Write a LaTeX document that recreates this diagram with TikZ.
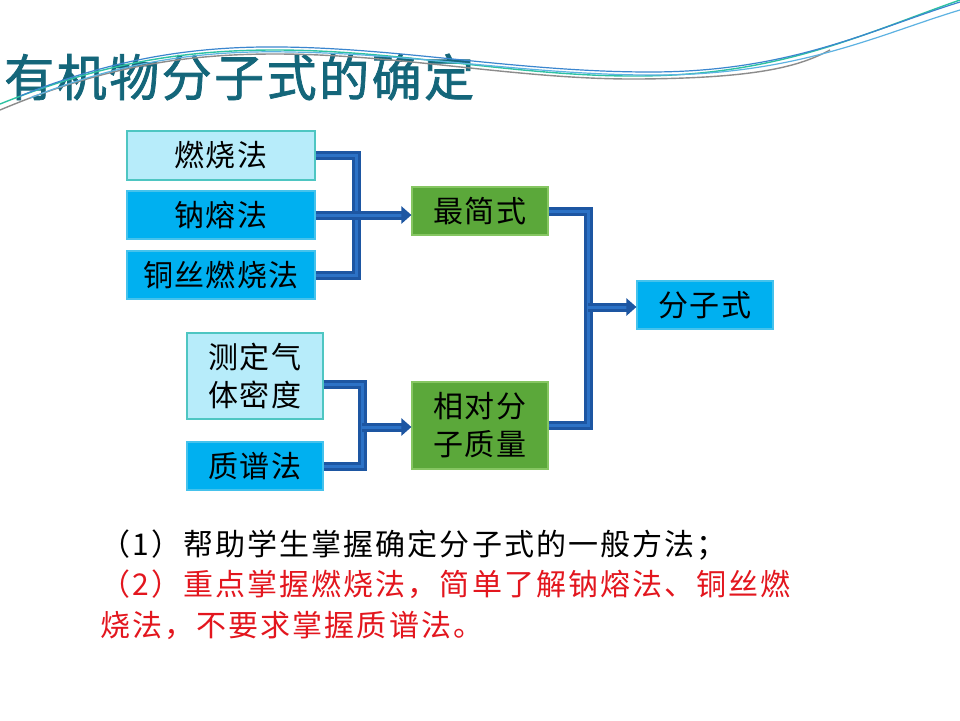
\documentclass[tikz,border=0pt]{standalone}
\usepackage{fontspec}
\setmainfont{Noto Sans CJK SC}[LetterSpace=4]
\newfontfamily\headfont{Noto Sans CJK SC}[FakeBold=1.5,LetterSpace=5]
\newfontfamily\notefont{Noto Sans CJK SC}[LetterSpace=7]
\usetikzlibrary{arrows.meta,positioning}
\definecolor{paleblue} {HTML}{B7ECFA}
\definecolor{paleedge} {HTML}{4EC6C2}
\definecolor{skyfill}  {HTML}{00B0F0}
\definecolor{skyedge}  {HTML}{45C2EC}
\definecolor{leaf}     {HTML}{5BA83A}
\definecolor{leafedge} {HTML}{86C662}
\definecolor{linkdark} {HTML}{1D56A2}
\definecolor{linklight}{HTML}{2C72C6}
\definecolor{headteal} {HTML}{14667A}
\definecolor{notered}  {HTML}{E3161E}
\definecolor{swgray}   {HTML}{8C8C8C}
\definecolor{swteal}   {HTML}{2EC2A2}
\definecolor{swblue}   {HTML}{3B86CF}
\definecolor{swsky}    {HTML}{5DB2E2}

\begin{document}
\begin{tikzpicture}[x=1pt,y=-1pt,
    box/.style={draw,line width=1.2pt,minimum width=136pt,minimum height=48pt,
                inner sep=2pt,align=center,font=\fontsize{30}{38}\selectfont},
    palebox/.style={box,fill=paleblue,draw=paleedge},
    skybox/.style={box,fill=skyfill,draw=skyedge},
    leafbox/.style={box,fill=leaf,draw=leafedge},
    link/.style={draw=linkdark,line width=3pt,double=linklight,double distance=3pt},
    linkarrow/.style={link,-{Triangle[length=10pt,width=17pt]}},
    note/.style={anchor=west,inner sep=0pt,font=\notefont\fontsize{30}{36}\selectfont}]
  \useasboundingbox[fill=white] (0,0) rectangle (960,720);

  % title
  \node[anchor=west,inner sep=0pt,text=headteal,font=\headfont\fontsize{50}{56}\selectfont]
    (title) at (4,77) {有机物分子式的确定};

  % swoosh
  \draw[swgray,line width=1.4pt] (0,110) .. controls (100,68) and (180,54) .. (275,54)
    .. controls (400,54) and (520,80) .. (640,79) .. controls (760,78) and (800,66) .. (830,50);
  \draw[swteal,line width=1.4pt] (0,104) .. controls (100,64) and (180,50) .. (275,50)
    .. controls (400,50) and (520,77) .. (640,76) .. controls (780,75) and (860,35) .. (960,0);
  \draw[swblue,line width=1.2pt] (20,96) .. controls (110,60) and (190,46) .. (280,47)
    .. controls (400,48) and (520,72) .. (650,72) .. controls (790,72) and (870,30) .. (960,2);
  \draw[swsky,line width=1.2pt] (30,98) .. controls (120,62) and (200,50) .. (290,52)
    .. controls (420,54) and (540,76) .. (660,75) .. controls (800,74) and (880,34) .. (960,10);

  % boxes
  \node[palebox,minimum width=188pt,minimum height=49pt] (burn) at (221,155.5) {燃烧法};
  \node[skybox,minimum width=188pt] (sodium) at (221,215) {钠熔法};
  \node[skybox,minimum width=188pt] (copper) at (221,275) {铜丝燃烧法};
  \node[leafbox] (simplest) at (480,211) {最简式};
  \node[skybox] (formula) at (705,305) {分子式};
  \node[palebox,minimum height=86pt] (density) at (255,376) {测定气\\体密度};
  \node[skybox] (massspec) at (255,466) {质谱法};
  \node[leafbox,minimum height=87pt] (relmass) at (480,425.5) {相对分\\子质量};

  % connectors
  \coordinate (joinA) at (356,215);
  \coordinate (joinB) at (362,427);
  \coordinate (joinC) at (588,307);
  \draw[link] (burn.east) -| (joinA) |- (copper.east);
  \draw[linkarrow] (sodium.east) -- (simplest.west |- sodium.east);
  \draw[link] ([yshift=-8pt]density.east) -| (joinB) |- (massspec.east);
  \draw[linkarrow] (joinB) -- (relmass.west |- joinB);
  \draw[link] (simplest.east) -| (joinC) |- (relmass.east);
  \draw[linkarrow] (joinC) -- (formula.west |- joinC);

  % notes
  \node[note] (aimA) at (100,545) {（1）帮助学生掌握确定分子式的一般方法；};
  \node[note,text=notered] (aimB) at (100,584) {（2）重点掌握燃烧法，简单了解钠熔法、铜丝燃};
  \node[note,text=notered] (aimC) at (100,625) {烧法，不要求掌握质谱法。};
\end{tikzpicture}
\end{document}
